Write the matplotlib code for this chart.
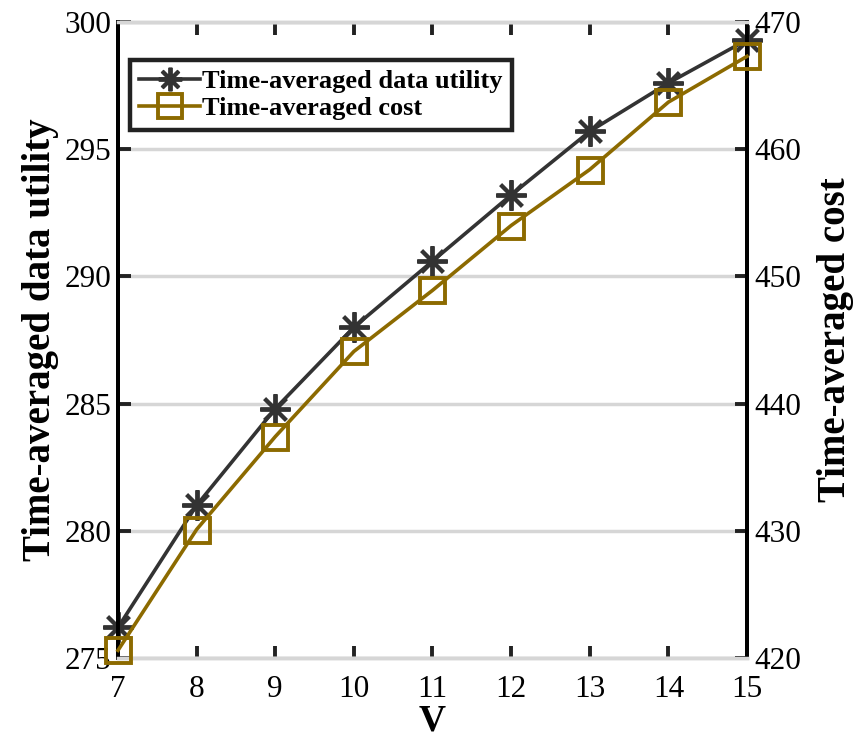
import matplotlib
matplotlib.use('Agg')
import matplotlib.pyplot as plt

plt.rcParams['font.family'] = ['Liberation Serif', 'DejaVu Serif']

V = [7, 8, 9, 10, 11, 12, 13, 14, 15]
utility = [276.2, 281.0, 284.8, 288.0, 290.6, 293.2, 295.7, 297.6, 299.3]
cost = [420.6, 430.1, 437.4, 444.1, 448.9, 454.0, 458.4, 463.7, 467.3]

c_util = '#333333'
c_cost = '#8c6a00'
grid_c = '#d6d6d6'

fig = plt.figure(figsize=(8.63, 7.43), dpi=100)
ax = fig.add_axes([0.1367, 0.1144, 0.7289, 0.856])
ax2 = ax.twinx()

l1, = ax.plot(V, utility, color=c_util, lw=2.6, marker=(8, 2, 0), markersize=22,
              markeredgewidth=2.8, label='Time-averaged data utility', zorder=3,
              clip_on=False)
l2, = ax2.plot(V, cost, color=c_cost, lw=2.6, marker='s', markersize=18,
               markerfacecolor='none', markeredgewidth=2.8, label='Time-averaged cost',
               zorder=3, clip_on=False)

ax.set_xlim(7, 15)
ax.set_ylim(275, 300)
ax2.set_ylim(420, 470)
ax.set_xticks(V)
ax.set_yticks([275, 280, 285, 290, 295, 300])
ax2.set_yticks([420, 430, 440, 450, 460, 470])

ax.yaxis.grid(True, color=grid_c, lw=2.5)
ax.set_axisbelow(True)

for a in (ax, ax2):
    a.spines['top'].set_color(grid_c)
    a.spines['bottom'].set_color(grid_c)
    a.spines['top'].set_linewidth(2.5)
    a.spines['bottom'].set_linewidth(2.5)
    a.spines['left'].set_linewidth(2.8)
    a.spines['right'].set_linewidth(2.8)
ax.tick_params(axis='x', direction='in', top=True, length=9, width=2.8,
               labelsize=22.5, pad=12, color='#222222')
ax.tick_params(axis='y', direction='in', length=9, width=2.8, labelsize=22.5,
               pad=5, color='#222222')
ax2.tick_params(axis='y', direction='in', length=9, width=2.8, labelsize=22.5,
                pad=5, color='#222222')

ax.set_xlabel('V', fontsize=27, fontweight='bold', labelpad=0)
ax.set_ylabel('Time-averaged data utility', fontsize=28, fontweight='bold', labelpad=4)
ax2.set_ylabel('Time-averaged cost', fontsize=28, fontweight='bold', labelpad=12)

leg = ax.legend([l1, l2], [l1.get_label(), l2.get_label()], loc='upper left',
                bbox_to_anchor=(0.019, 0.94), fancybox=False, framealpha=1,
                edgecolor='#222222', prop={'weight': 'bold', 'size': 19},
                handlelength=2.3, handletextpad=0.1, borderpad=0.35, labelspacing=0.15,
                borderaxespad=0)
leg.get_frame().set_linewidth(3.2)
for h in leg.legend_handles:
    h.set_markersize(17)
leg.set_zorder(5)

fig.savefig('out.png', dpi=100)
